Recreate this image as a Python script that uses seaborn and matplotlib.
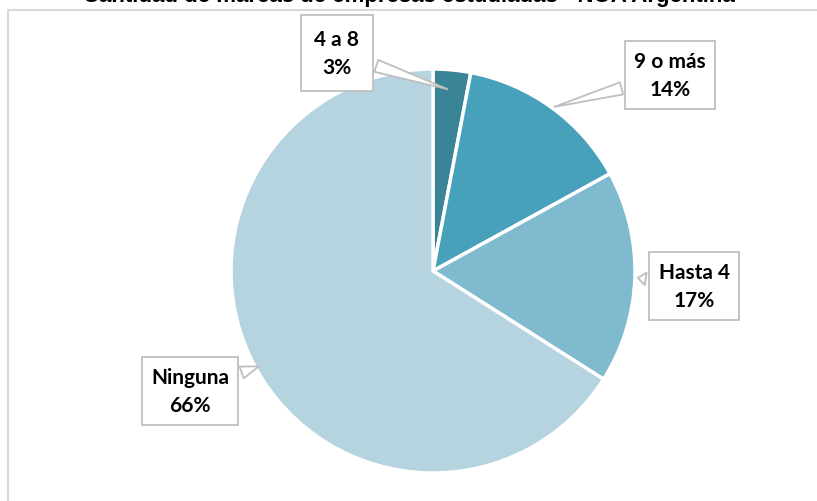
import matplotlib
matplotlib.use("Agg")
import matplotlib.pyplot as plt
import seaborn as sns
import numpy as np
from matplotlib.lines import Line2D

# datos
categorias = ['4 a 8', '9 o más', 'Hasta 4', 'Ninguna']
porcentajes = [3, 14, 17, 66]
colores = ['#3a8497', '#48a1ba', '#7fbacf', '#b6d4df']

sns.set_theme(style='white')
plt.rcParams['font.family'] = ['Lato', 'DejaVu Sans']

fig = plt.figure(figsize=(8.17, 5.02), dpi=100)

# borde del area del grafico (solo izquierda y arriba visibles)
fig.add_artist(Line2D([7.5 / 817, 7.5 / 817, 1.0], [0.0, 1 - 11 / 502, 1 - 11 / 502],
                      transform=fig.transFigure, color='#d9d9d9', lw=1.5))

# titulo recortado por el borde superior (como en el original)
fig.text(0.5, 1 - 2 / 502, 'Cantidad de marcas de empresas estudiadas - NOA Argentina',
         ha='center', va='baseline', fontsize=16, fontweight='bold',
         family=['Liberation Sans', 'DejaVu Sans'], color='#000000')

# centro (433, 272) px, radio 202 px
cx, cy, r = 433, 272, 202
ax = fig.add_axes([(cx - r) / 817, 1 - (cy + r) / 502, 2 * r / 817, 2 * r / 502])
wedges, _ = ax.pie(porcentajes, colors=colores, startangle=90, counterclock=False,
                   wedgeprops=dict(edgecolor='white', linewidth=2.5))
ax.set_xlim(-1, 1)
ax.set_ylim(-1, 1)
ax.set_aspect('auto')
ax.axis('off')

# posicion de las etiquetas (px), radio de la punta del globo y relleno de la caja
pos_etiquetas = [(337, 54), (670, 76), (694, 287), (190, 392)]
radio_punta = [0.9, 1.0, 1.0, 0.97]
relleno = [0.65, 0.45, 0.45, 0.45]

for w, cat, pct, (px, py), rp, pad in zip(wedges, categorias, porcentajes,
                                          pos_etiquetas, radio_punta, relleno):
    ang = np.deg2rad((w.theta1 + w.theta2) / 2)
    punta = (rp * np.cos(ang), rp * np.sin(ang))
    txt = ((px - cx) / r, (cy - py) / r)
    ax.annotate(f'{cat}\n{pct}%', xy=punta, xytext=txt, textcoords='data',
                ha='center', va='center', fontsize=15, fontweight='bold',
                linespacing=1.55, color='#000000', annotation_clip=False,
                bbox=dict(boxstyle=f'square,pad={pad}', fc='white', ec='#bfbfbf', lw=1.3),
                arrowprops=dict(arrowstyle='wedge,tail_width=0.6,shrink_factor=0.5',
                                fc='white', ec='#bfbfbf', lw=1.3))

fig.savefig('out.png', dpi=100)
